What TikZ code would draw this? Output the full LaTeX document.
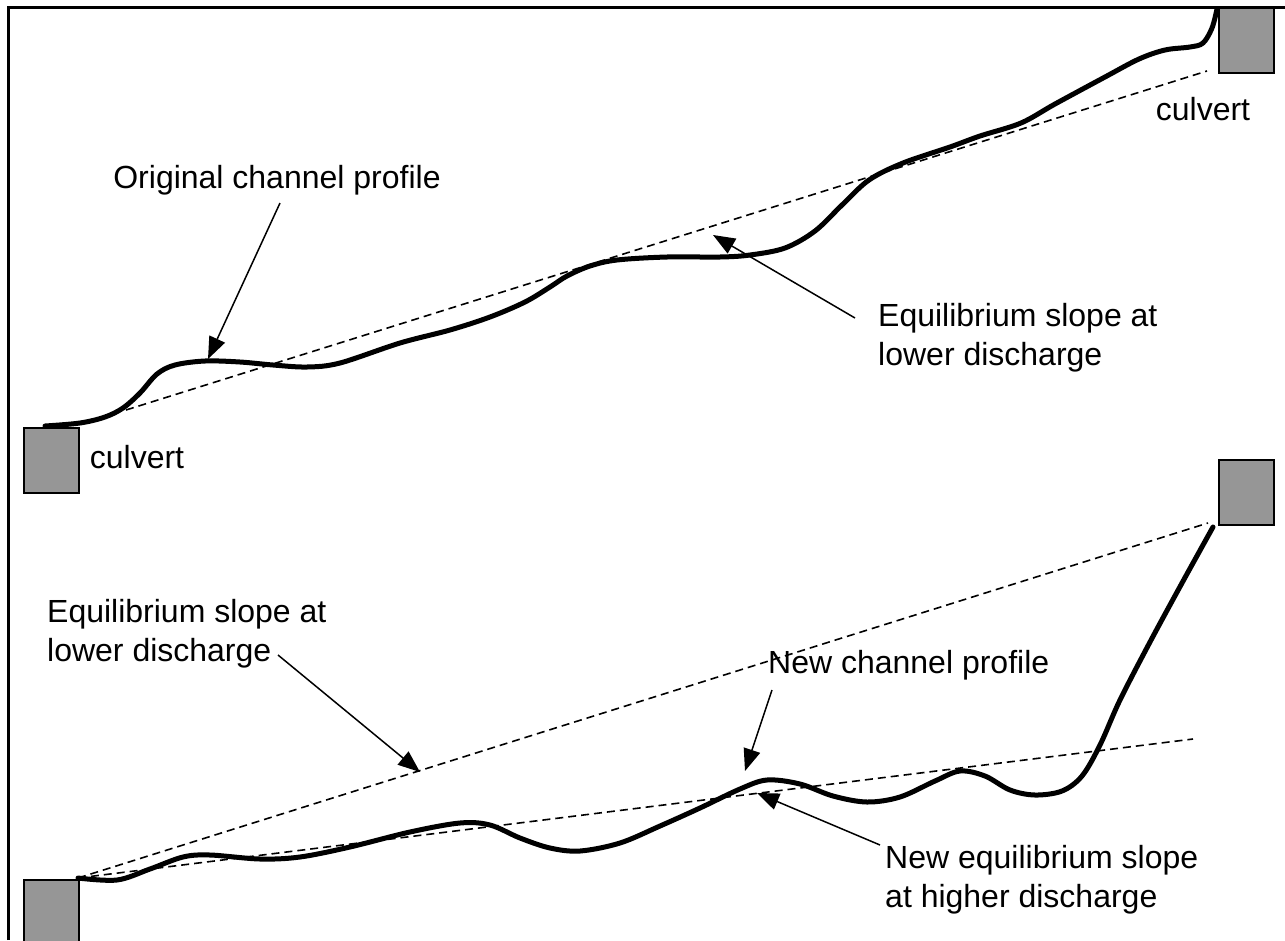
\documentclass[tikz,border=0pt]{standalone}
\usepackage{fontspec}
\setmainfont{Liberation Sans}
\usetikzlibrary{arrows.meta}
\definecolor{culvgray}{HTML}{969696}
\begin{document}
\begin{tikzpicture}[x=1pt,y=-1pt,
  culvert/.style={draw=black,line width=2pt,fill=culvgray,minimum width=55pt,minimum height=65pt,inner sep=0pt,anchor=north west},
  lbl/.style={font=\fontsize{32}{39}\selectfont,inner sep=0pt,align=left},
  profile/.style={line width=5pt,line cap=round,line join=round},
  slope/.style={line width=1.6pt,dash pattern=on 8pt off 5pt},
  pointer/.style={line width=1.5pt,-{Triangle[length=22pt,width=17pt]}},
  frame/.style={line width=3pt}]
\useasboundingbox (0,0) rectangle (1285,940);
% frame
\draw[frame] (8,940) -- (8,7) -- (1285,7);
% culverts
\node[culvert] (c1) at (1218,7) {};
\node[culvert] (c2) at (23,427) {};
\node[culvert] (c3) at (1218,459) {};
\node[culvert,minimum height=80pt] (c4) at (23,879) {};
% top slope and profile
\coordinate (ts0) at (126,410);
\coordinate (ts1) at (1207,71);
\draw[slope] (ts0) -- (ts1);
\draw[profile] plot[smooth,tension=0.55] coordinates {(45,426) (80,423) (105,417) (123,408) (140,393) (157,374) (175,365) (205,361) (240,362) (273,365) (307,367) (340,363) (400,343) (450,330) (490,317) (525,302) (550,287) (567,276) (590,266) (617,260) (667,257) (720,257) (750,255) (785,248) (815,231) (842,205) (869,180) (903,163) (950,147) (980,136) (1021,123) (1055,104) (1105,77) (1139,59) (1165,50) (1190,47) (1203,43) (1212,28) (1217,9)};
% bottom slopes and profile
\coordinate (bs0) at (78,878);
\coordinate (bs1) at (1208,523);
\coordinate (bs2) at (1193,739);
\draw[slope] (bs0) -- (bs1);
\draw[slope] (bs0) -- (bs2);
\draw[profile] plot[smooth,tension=0.55] coordinates {(78,878) (117,880) (150,869) (183,857) (210,855) (260,859) (300,857) (350,847) (410,832) (460,823) (490,825) (520,838) (550,848) (580,851) (620,843) (660,826) (700,808) (740,789) (767,780) (800,784) (833,796) (867,802) (900,797) (935,781) (960,771) (985,776) (1010,790) (1035,795) (1062,791) (1082,776) (1100,745) (1120,700) (1150,642) (1182,583) (1213,527)};
% labels
\node[lbl] (lc1) at (1203,109) {culvert};
\node[lbl] (lc2) at (137,457) {culvert};
\node[lbl] (orig) at (277,180) {Original channel profile};
\node[lbl,anchor=north west] (eqtop) at (878,303) {Equilibrium slope at\\lower discharge};
\node[lbl,anchor=north west] (eqlow) at (47,599) {Equilibrium slope at\\lower discharge};
\node[lbl,anchor=west] (newp) at (768,665) {New channel profile};
\node[lbl,anchor=north west] (neweq) at (885,845) {New equilibrium slope\\at higher discharge};
% pointers
\coordinate (a1s) at (280,203); \coordinate (a1e) at (208,359);
\coordinate (a2s) at (855,318); \coordinate (a2e) at (713,235);
\coordinate (a3s) at (278,655); \coordinate (a3e) at (420,772);
\coordinate (a4s) at (772,690); \coordinate (a4e) at (745,771);
\coordinate (a5s) at (880,845); \coordinate (a5e) at (757,793);
\draw[pointer] (a1s) -- (a1e);
\draw[pointer] (a2s) -- (a2e);
\draw[pointer] (a3s) -- (a3e);
\draw[pointer] (a4s) -- (a4e);
\draw[pointer] (a5s) -- (a5e);
\end{tikzpicture}
\end{document}
